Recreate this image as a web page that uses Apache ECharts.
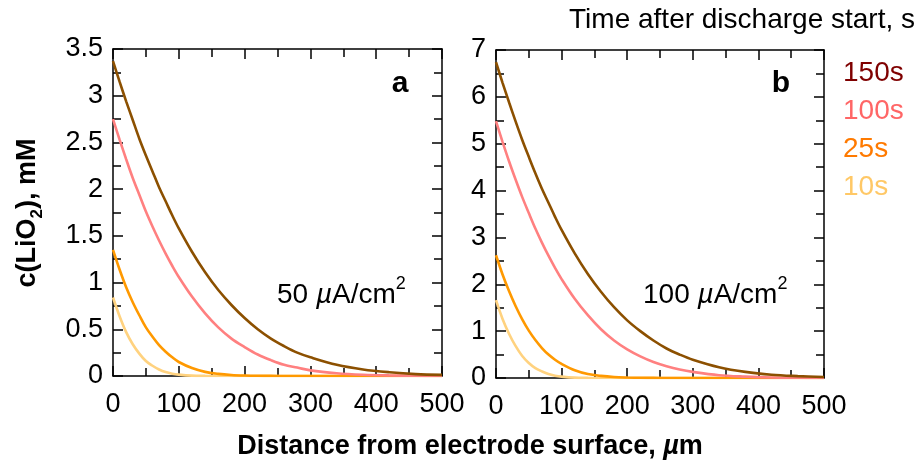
<!DOCTYPE html>
<html>
<head>
<meta charset="utf-8">
<title>LiO2 concentration profiles</title>
<script src="https://cdn.jsdelivr.net/npm/echarts@6/dist/echarts.min.js"></script>
<style>
  *{margin:0;padding:0;}
  body{background:#fff;}
  #main{width:920px;height:466px;}
</style>
</head>
<body>
<div id="main"></div>
<script>
// distance from electrode surface, um
var distance = [0,10,20,30,40,50,60,70,80,90,100,120,140,160,180,200,220,240,260,280,300,340,380,420,460,500];
var times = ['150s','100s','25s','10s'];

// panel a, 50 uA/cm2, c(LiO2) in mM
var a150 = [3.37,3.15,2.94,2.74,2.54,2.36,2.19,2.02,1.87,1.72,1.58,1.33,1.11,0.92,0.76,0.62,0.50,0.40,0.32,0.25,0.20,0.12,0.07,0.04,0.02,0.012];
var a100 = [2.75,2.53,2.32,2.12,1.94,1.76,1.60,1.45,1.31,1.18,1.06,0.85,0.67,0.52,0.40,0.31,0.23,0.17,0.12,0.09,0.06,0.03,0.014,0.006,0.002,0.001];
var a25 = [1.35,1.14,0.95,0.79,0.65,0.52,0.42,0.33,0.26,0.20,0.15,0.085,0.044,0.023,0.011,0.005,0.002,0.001,0,0,0,0,0,0,0,0];
var a10 = [0.84,0.64,0.47,0.34,0.24,0.16,0.11,0.07,0.042,0.025,0.015,0.004,0.001,0,0,0,0,0,0,0,0,0,0,0,0,0];

// panel b, 100 uA/cm2
var b150 = [6.74,6.30,5.88,5.47,5.08,4.72,4.37,4.04,3.74,3.44,3.16,2.66,2.22,1.84,1.51,1.23,1.00,0.80,0.63,0.50,0.39,0.23,0.13,0.07,0.04,0.02];
var b100 = [5.48,5.04,4.62,4.23,3.86,3.52,3.19,2.89,2.61,2.35,2.11,1.69,1.34,1.04,0.80,0.61,0.46,0.34,0.25,0.18,0.13,0.06,0.03,0.012,0.005,0.002];
var b25 = [2.62,2.21,1.85,1.53,1.25,1.01,0.81,0.64,0.50,0.39,0.30,0.165,0.085,0.045,0.021,0.01,0.004,0.002,0,0,0,0,0,0,0,0];
var b10 = [1.66,1.26,0.94,0.68,0.47,0.32,0.21,0.14,0.083,0.05,0.03,0.008,0.002,0,0,0,0,0,0,0,0,0,0,0,0,0];

var lineColors = {'150s':'#8c5000','100s':'#ff8080','25s':'#ff9900','10s':'#ffd27f'};
var textColors = {'150s':'#7f0000','100s':'#ff6666','25s':'#ff7a00','10s':'#ffc866'};

var font = "'Liberation Sans', Arial, Helvetica, sans-serif";

function pairs(arr){
    return distance.map(function(d,i){ return [d, arr[i]]; });
}

function xAx(grid, pos, label){
    return {
        gridIndex:grid, type:'value', position:pos, min:0, max:500, interval:100,
        axisLine:{onZero:false, lineStyle:{color:'#000', width:1.5}},
        axisTick:{inside:true, length:10, lineStyle:{color:'#000', width:1.5}},
        minorTick:{show:true, splitNumber:2, length:8, lineStyle:{color:'#000', width:1.5}},
        splitLine:{show:false},
        axisLabel:{show:label, fontSize:27, color:'#000', fontFamily:font, margin:15}
    };
}
function yAx(grid, pos, max, step, label){
    return {
        gridIndex:grid, type:'value', position:pos, min:0, max:max, interval:step,
        axisLine:{onZero:false, lineStyle:{color:'#000', width:1.5}},
        axisTick:{inside:true, length:10, lineStyle:{color:'#000', width:1.5}},
        minorTick:{show:true, splitNumber:2, length:8, lineStyle:{color:'#000', width:1.5}},
        splitLine:{show:false},
        axisLabel:{show:label, fontSize:27, color:'#000', fontFamily:font, margin:10}
    };
}
function line(name, arr, ax){
    return {
        name:name, type:'line', xAxisIndex:ax, yAxisIndex:ax,
        data:pairs(arr), showSymbol:false, smooth:0.35,
        lineStyle:{color:lineColors[name], width:2.6}, itemStyle:{color:lineColors[name]}
    };
}

var rich = {
    n:{fontSize:28, fontFamily:font, lineHeight:40},
    mu:{fontSize:28, fontFamily:font, fontStyle:'italic', lineHeight:40},
    sup:{fontSize:18, fontFamily:font, lineHeight:18, verticalAlign:'top'}
};

var myChart = echarts.init(document.getElementById('main'));
var option = {
    animation:false,
    grid:[
        {left:113, top:49, width:329, height:327},
        {left:496, top:50, width:328, height:328}
    ],
    xAxis:[xAx(0,'bottom',true), xAx(0,'top',false), xAx(1,'bottom',true), xAx(1,'top',false)],
    yAxis:[yAx(0,'left',3.5,0.5,true), yAx(0,'right',3.5,0.5,false), yAx(1,'left',7,1,true), yAx(1,'right',7,1,false)],
    legend:{
        orient:'vertical', left:838, top:58, padding:0, icon:'none', itemWidth:0, itemGap:8,
        selectedMode:false,
        textStyle:{fontSize:28, fontFamily:font, lineHeight:30},
        data:times.map(function(t){ return {name:t, textStyle:{color:textColors[t]}}; })
    },
    series:[
        line('10s', a10, 0), line('25s', a25, 0), line('100s', a100, 0), line('150s', a150, 0),
        line('10s', b10, 2), line('25s', b25, 2), line('100s', b100, 2), line('150s', b150, 2)
    ],
    graphic:[
        {type:'text', x:915, y:20, style:{text:'Time after discharge start, s', font:'28px ' + font, fill:'#000', align:'right', verticalAlign:'middle'}},
        {type:'text', x:400, y:84, style:{text:'a', font:'bold 30px ' + font, fill:'#000', align:'center', verticalAlign:'middle'}},
        {type:'text', x:781, y:84, style:{text:'b', font:'bold 30px ' + font, fill:'#000', align:'center', verticalAlign:'middle'}},
        {type:'text', x:277, y:295, style:{text:'{n|50 }{mu|\u00b5}{n|A/cm}{sup|2}', rich:rich, fill:'#000', align:'left', verticalAlign:'middle'}},
        {type:'text', x:643, y:295, style:{text:'{n|100 }{mu|\u00b5}{n|A/cm}{sup|2}', rich:rich, fill:'#000', align:'left', verticalAlign:'middle'}},
        {type:'text', x:470, y:447, style:{
            text:'{b|Distance from electrode surface, }{bi|\u00b5}{b|m}',
            rich:{b:{fontSize:27, fontWeight:'bold', fontFamily:font}, bi:{fontSize:27, fontWeight:'bold', fontStyle:'italic', fontFamily:font}},
            fill:'#000', align:'center', verticalAlign:'middle'}},
        {type:'text', x:28, y:213, rotation:Math.PI/2, style:{
            text:'{t|c(LiO}{s|2}{t|), mM}',
            rich:{t:{fontSize:27, fontWeight:'bold', fontFamily:font, lineHeight:36}, s:{fontSize:17, fontWeight:'bold', fontFamily:font, lineHeight:17, verticalAlign:'bottom'}},
            fill:'#000', align:'center', verticalAlign:'middle'}}
    ]
};
myChart.setOption(option);
</script>
</body>
</html>
